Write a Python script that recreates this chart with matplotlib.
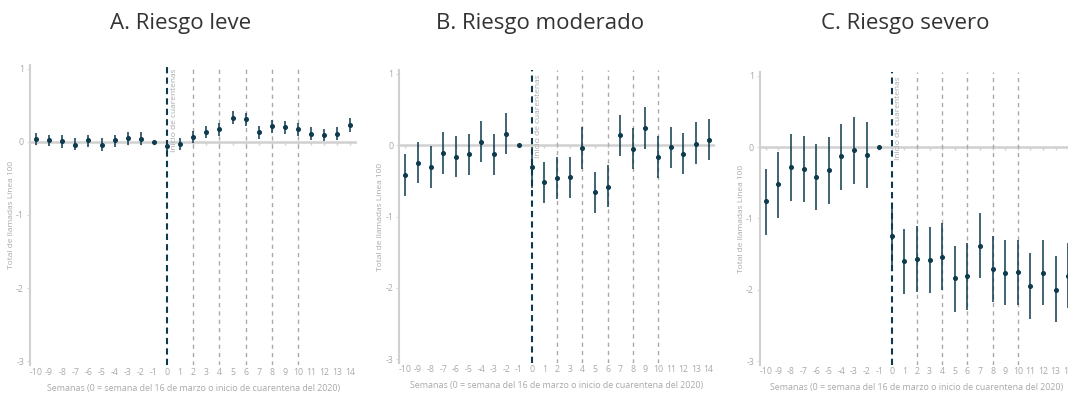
import numpy as np
import matplotlib.pyplot as plt
from matplotlib.markers import TICKDOWN

plt.rcParams["font.family"] = ["Open Sans", "DejaVu Sans"]

weeks = list(range(-10, 15))

# Coeficientes y límites del intervalo de confianza por semana
coef_a = [0.04, 0.02, 0.01, -0.04, 0.02, -0.04, 0.02, 0.05, 0.04, 0.00,
          -0.06, -0.03, 0.06, 0.13, 0.17, 0.33, 0.31, 0.13, 0.21, 0.20,
          0.17, 0.11, 0.10, 0.11, 0.23]
hi_a = [0.12, 0.10, 0.09, 0.05, 0.10, 0.05, 0.10, 0.14, 0.13, 0.00,
        0.02, 0.05, 0.15, 0.22, 0.26, 0.42, 0.39, 0.21, 0.30, 0.28,
        0.26, 0.20, 0.18, 0.20, 0.32]
lo_a = [-0.05, -0.06, -0.08, -0.11, -0.07, -0.12, -0.07, -0.04, -0.05, 0.00,
        -0.15, -0.11, -0.02, 0.05, 0.08, 0.24, 0.22, 0.04, 0.12, 0.11,
        0.08, 0.02, 0.01, 0.02, 0.14]

coef_b = [-0.42, -0.25, -0.30, -0.11, -0.16, -0.13, 0.05, -0.13, 0.16, 0.00,
          -0.31, -0.52, -0.46, -0.45, -0.04, -0.66, -0.58, 0.14, -0.05, 0.24,
          -0.17, -0.03, -0.12, 0.02, 0.08]
hi_b = [-0.13, 0.05, -0.01, 0.18, 0.13, 0.16, 0.34, 0.16, 0.45, 0.00,
        -0.02, -0.23, -0.16, -0.16, 0.25, -0.37, -0.28, 0.43, 0.24, 0.53,
        0.13, 0.26, 0.17, 0.32, 0.37]
lo_b = [-0.71, -0.53, -0.60, -0.40, -0.45, -0.42, -0.24, -0.42, -0.13, 0.00,
        -0.60, -0.81, -0.75, -0.74, -0.33, -0.95, -0.87, -0.15, -0.34, -0.05,
        -0.46, -0.32, -0.41, -0.27, -0.21]

coef_c = [-0.76, -0.52, -0.28, -0.30, -0.42, -0.32, -0.13, -0.04, -0.11, 0.00,
          -1.25, -1.60, -1.57, -1.58, -1.54, -1.84, -1.81, -1.38, -1.71, -1.76,
          -1.75, -1.95, -1.76, -2.00, -1.80]
hi_c = [-0.30, -0.06, 0.18, 0.16, 0.05, 0.14, 0.33, 0.42, 0.36, 0.00,
        -0.78, -1.15, -1.11, -1.12, -1.07, -1.39, -1.35, -0.92, -1.25, -1.30,
        -1.30, -1.49, -1.30, -1.53, -1.34]
lo_c = [-1.23, -0.99, -0.75, -0.77, -0.88, -0.79, -0.60, -0.51, -0.57, 0.00,
        -1.72, -2.06, -2.03, -2.04, -2.00, -2.31, -2.28, -1.84, -2.17, -2.22,
        -2.21, -2.41, -2.22, -2.45, -2.26]

titles = ["A. Riesgo leve", "B. Riesgo moderado", "C. Riesgo severo"]
title_x = [181, 540, 905]
panels = [(coef_a, lo_a, hi_a), (coef_b, lo_b, hi_b), (coef_c, lo_c, hi_c)]

# posiciones de los ejes en pixeles: izquierda, arriba, abajo, derecha
boxes = [(29.5, 65, 365, 357), (399, 70.4, 362.6, 715), (759.5, 72.4, 364.6, 1074.5)]

NAVY = "#0d3a4e"
GRAY_TXT = "#a9a9a9"
GRAY_LN = "#d0d0d0"
W, H = 1068, 393

fig = plt.figure(figsize=(W / 100, H / 100), dpi=100)

for (coef, lo, hi), (l, t, b, r), title, tx in zip(panels, boxes, titles, title_x):
    ax = fig.add_axes([l / W, 1 - b / H, (r - l) / W, (b - t) / H])
    ax.set_xlim(-10.5, 14.5)
    ax.set_ylim(-3.05, 1.05)

    ax.axhline(0, color=GRAY_LN, lw=1.8, zorder=1)
    ax.plot(weeks, np.zeros(len(weeks)), ls="none", marker=TICKDOWN,
            ms=2.5, mew=1, color=GRAY_LN, zorder=1)
    for xv in [2, 4, 6, 8, 10]:
        ax.axvline(xv, color="#a9a9a9", lw=1, dashes=(3, 3), zorder=1)
    ax.axvline(0, color=NAVY, lw=1.5, dashes=(3, 2), zorder=2)

    c = np.array(coef)
    yerr = [c - np.array(lo), np.array(hi) - c]
    ax.errorbar(weeks, c, yerr=yerr, fmt="o", ms=2.6, color=NAVY,
                ecolor=NAVY, elinewidth=1.1, capsize=0, zorder=3)

    ax.text(0.55, 1.0, "Inicio de cuarentenas", rotation=90, ha="center",
            va="top", fontsize=6, color=GRAY_TXT)

    for side in ["top", "right", "bottom"]:
        ax.spines[side].set_visible(False)
    ax.spines["left"].set_color(GRAY_LN)
    ax.spines["left"].set_linewidth(1.5)

    ax.set_xticks(weeks)
    ax.set_xticklabels([str(w) for w in weeks])
    ax.set_yticks([1, 0, -1, -2, -3])
    ax.set_yticklabels(["1", "0", "-1", "-2", "-3"])
    ax.tick_params(axis="x", length=0, pad=2, labelsize=6.3, labelcolor=GRAY_TXT)
    ax.tick_params(axis="y", length=2, width=0.6, color=GRAY_LN, pad=2,
                   labelsize=6.3, labelcolor=GRAY_TXT)

    ax.set_ylabel("Total de llamadas Línea 100", fontsize=6,
                  color=GRAY_TXT, labelpad=1)
    ax.set_xlabel("Semanas (0 = semana del 16 de marzo o inicio de cuarentena del 2020)",
                  fontsize=6.4, color=GRAY_TXT, labelpad=5)

    fig.text(tx / W, 1 - 23 / H, title, ha="center", va="center",
             fontsize=16, color="#333333")

fig.savefig("out.png", dpi=100)
